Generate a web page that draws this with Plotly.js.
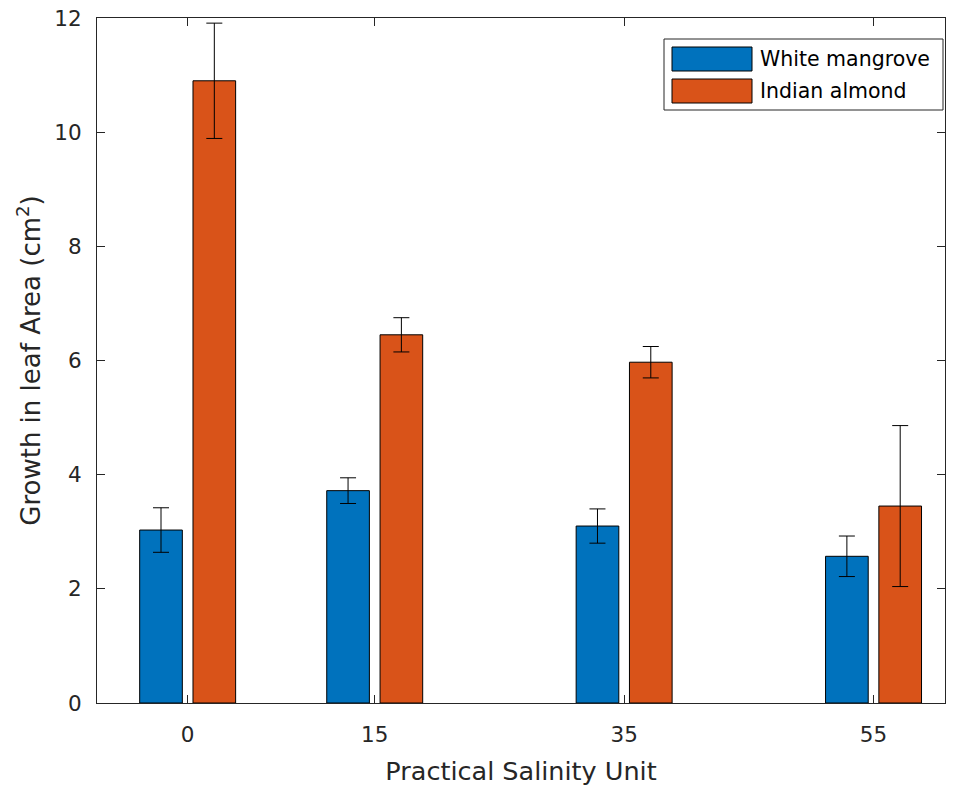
<!DOCTYPE html>
<html>
<head>
<meta charset="utf-8">
<script src="https://cdn.plot.ly/plotly-3.0.1.min.js"></script>
<style>
  html, body { margin: 0; padding: 0; background: #fff; }
  #chart { width: 956px; height: 786px; }
</style>
</head>
<body>
<div id="chart"></div>
<script>
// ---- data ----
const salinity = [0, 15, 35, 55];
const tickLabels = ["0", "15", "35", "55"];
const seriesNames = ["White mangrove", "Indian almond"];
const whiteMangrove = [3.03, 3.72, 3.10, 2.57];
const whiteMangroveErr = [0.39, 0.225, 0.30, 0.355];
const indianAlmond = [10.90, 6.45, 5.97, 3.45];
const indianAlmondErr = [1.01, 0.30, 0.275, 1.41];
const seriesColors = ["#0072BD", "#D95319"];

// ---- layout helpers (pixel -> paper) ----
const L = 97, R = 945, T = 18, B = 703;
const W = 956, H = 786;
function px(x) { return (x - L) / (R - L); }
function py(y) { return (B - y) / (B - T); }

const FONT = "DejaVu Sans, Liberation Sans, Arial, sans-serif";
const AX = "#262626";

const traces = [
  {
    type: "bar", name: seriesNames[0], x: salinity, y: whiteMangrove,
    marker: { color: seriesColors[0], line: { color: "#000", width: 1 } },
    error_y: { type: "data", array: whiteMangroveErr, visible: true, color: "#000", thickness: 1, width: 8 },
    showlegend: false, hoverinfo: "x+y"
  },
  {
    type: "bar", name: seriesNames[1], x: salinity, y: indianAlmond,
    marker: { color: seriesColors[1], line: { color: "#000", width: 1 } },
    error_y: { type: "data", array: indianAlmondErr, visible: true, color: "#000", thickness: 1, width: 8 },
    showlegend: false, hoverinfo: "x+y"
  }
];

// custom MATLAB-like legend
const legendBox = { x0: 664, x1: 943, y0: 39, y1: 110 };
const swatches = [
  { x0: 672, x1: 752, y0: 47, y1: 71 },
  { x0: 672, x1: 752, y0: 79, y1: 103 }
];
const shapes = [
  { type: "rect", xref: "paper", yref: "paper", layer: "above",
    x0: px(legendBox.x0), x1: px(legendBox.x1), y0: py(legendBox.y1), y1: py(legendBox.y0),
    fillcolor: "#fff", line: { color: AX, width: 1 } }
];
const annotations = [];
swatches.forEach((s, i) => {
  shapes.push({ type: "rect", xref: "paper", yref: "paper", layer: "above",
    x0: px(s.x0), x1: px(s.x1), y0: py(s.y1), y1: py(s.y0),
    fillcolor: seriesColors[i], line: { color: "#000", width: 1 } });
  annotations.push({ xref: "paper", yref: "paper", x: px(758), y: py((s.y0 + s.y1) / 2),
    xanchor: "left", yanchor: "middle", showarrow: false, text: seriesNames[i],
    font: { family: FONT, size: 20.5, color: "#000" } });
});

const layout = {
  width: W, height: H,
  margin: { l: L, r: W - R, t: T, b: H - B, pad: 0 },
  paper_bgcolor: "#fff", plot_bgcolor: "#fff",
  barmode: "group", bargap: 0.43, bargroupgap: 0.2,
  showlegend: false,
  font: { family: FONT, color: AX },
  xaxis: {
    range: [-7.27, 60.73], tickmode: "array", tickvals: salinity, ticktext: tickLabels,
    showline: true, linecolor: AX, linewidth: 1, mirror: "ticks",
    ticks: "inside", ticklen: 8, tickwidth: 1, tickcolor: AX,
    showgrid: false, zeroline: false, automargin: false,
    tickfont: { family: FONT, size: 21.5, color: AX }, ticklabelstandoff: 12,
    title: { text: "Practical Salinity Unit", font: { family: FONT, size: 25.5, color: AX }, standoff: 16 }
  },
  yaxis: {
    range: [0, 12], tickmode: "linear", tick0: 0, dtick: 2,
    showline: true, linecolor: AX, linewidth: 1, mirror: "ticks",
    ticks: "inside", ticklen: 8, tickwidth: 1, tickcolor: AX,
    showgrid: false, zeroline: false, automargin: false,
    tickfont: { family: FONT, size: 21.5, color: AX }, ticklabelstandoff: 10,
    title: { text: "Growth in leaf Area (cm<sup>2</sup>)", font: { family: FONT, size: 26, color: AX }, standoff: 6 }
  },
  shapes: shapes,
  annotations: annotations
};

Plotly.newPlot("chart", traces, layout, { displayModeBar: false, staticPlot: true });
</script>
</body>
</html>
